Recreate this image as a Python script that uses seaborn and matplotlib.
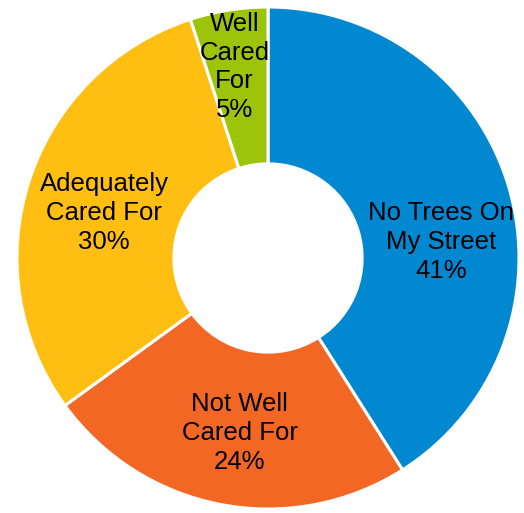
import matplotlib
matplotlib.use("Agg")
import matplotlib.pyplot as plt
import seaborn as sns

sns.set_theme(style="white")
plt.rcParams['font.family'] = ['Liberation Sans', 'DejaVu Sans']

# data
labels = ["No Trees On\nMy Street", "Not Well\nCared For", "Adequately\nCared For", "Well\nCared\nFor"]
shares = [41, 24, 30, 5]
colors = ["#0288D1", "#F26724", "#FFBF12", "#9CC40A"]

# label centres, in units of the outer radius
label_xy = [(0.689, 0.064), (-0.112, -0.697), (-0.653, 0.179), (-0.133, 0.761)]

fig = plt.figure(figsize=(5.24, 5.13), dpi=100)
ax = fig.add_axes([17 / 524, 4 / 513, 502 / 524, 502 / 513])

ax.pie(shares, colors=colors, startangle=90, counterclock=False,
       wedgeprops=dict(width=0.625, edgecolor="white", linewidth=2.2))

for lab, val, (x, y) in zip(labels, shares, label_xy):
    ax.text(x, y, f"{lab}\n{val}%", ha="center", va="center",
            fontsize=18.5, color="black", linespacing=1.25)

ax.set_xlim(-1, 1)
ax.set_ylim(-1, 1)
ax.set_aspect("auto")
ax.axis("off")

fig.savefig("out.png", dpi=100, facecolor="white")
